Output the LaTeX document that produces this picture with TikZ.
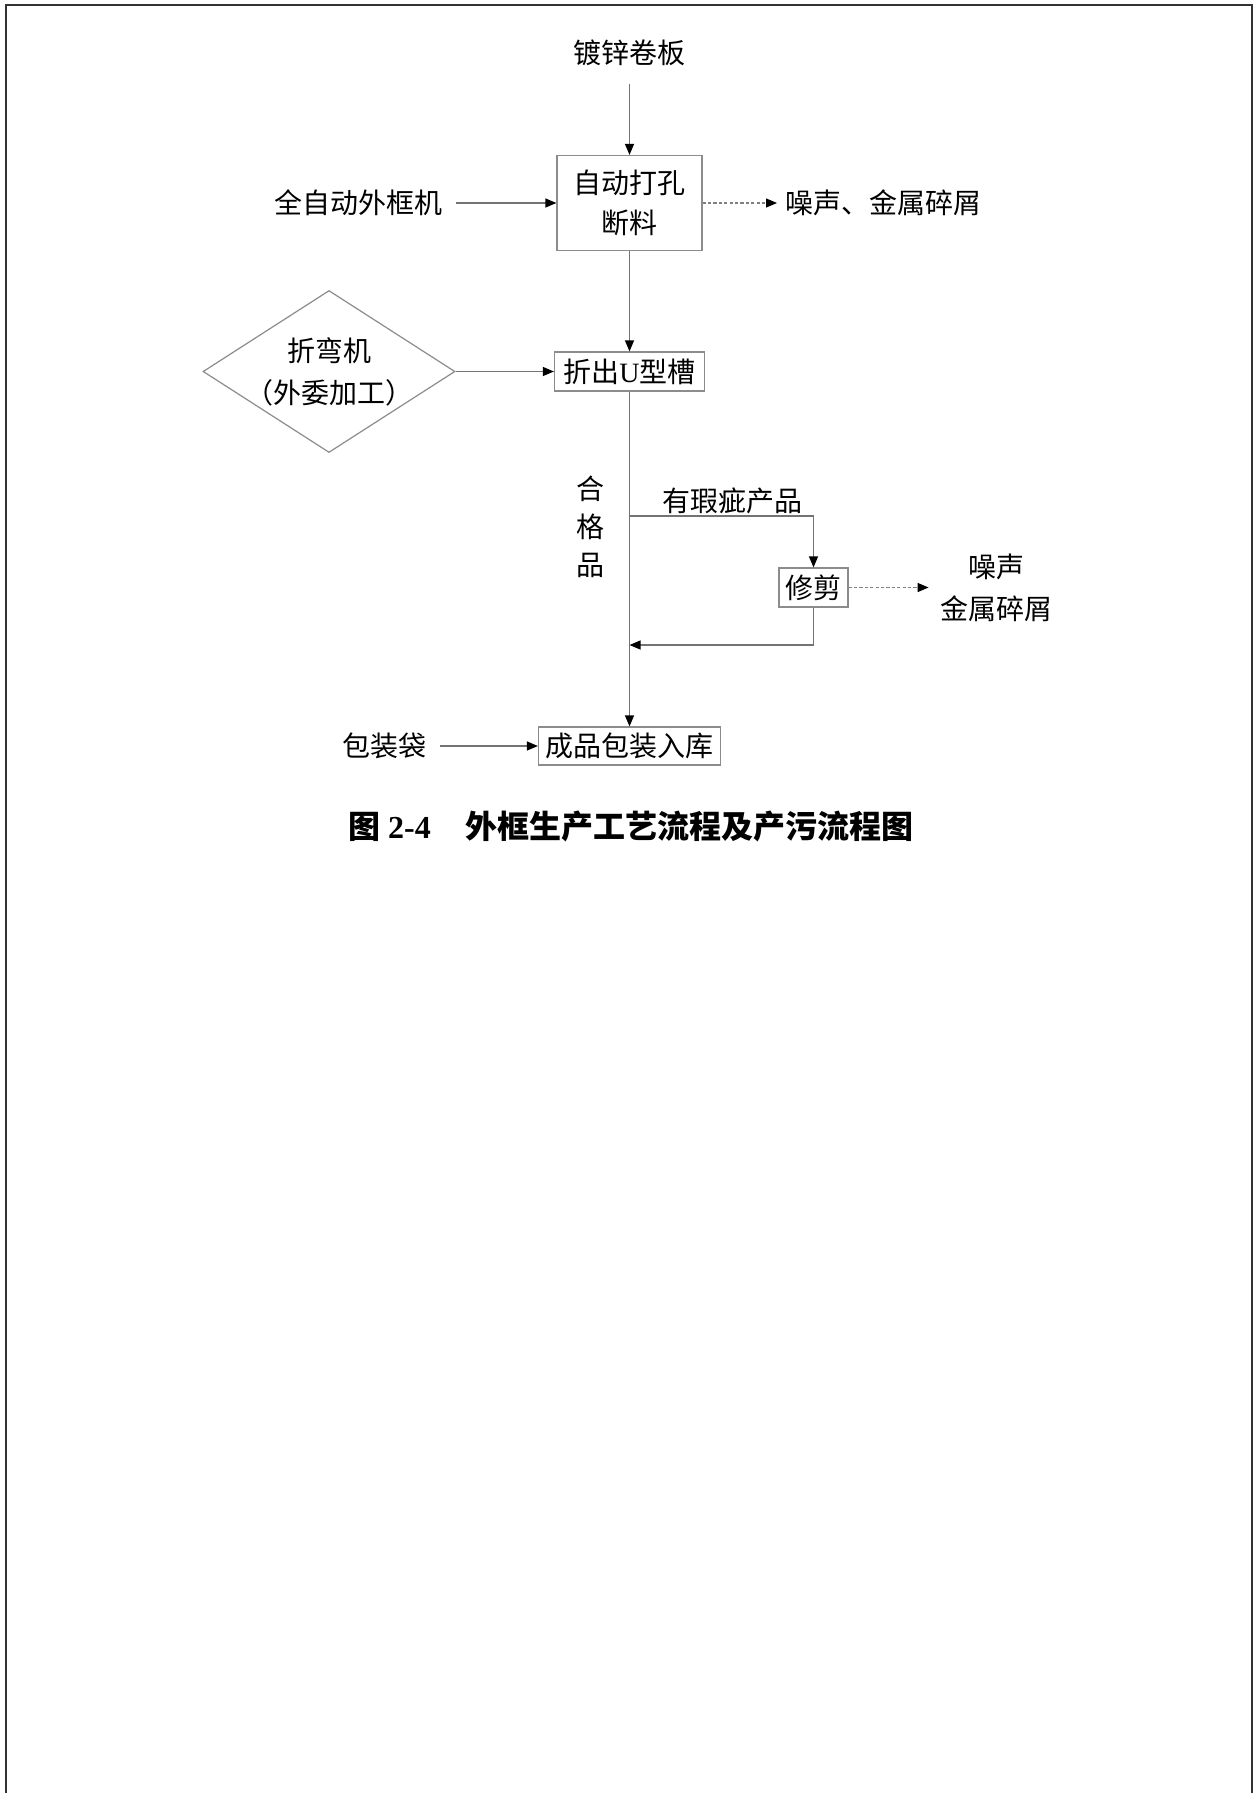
\documentclass[tikz,border=0pt]{standalone}
\usepackage{fontspec}
\setmainfont{Noto Sans CJK SC}
\newfontfamily\lat{Liberation Serif}
\usetikzlibrary{arrows.meta,shapes.geometric}
\begin{document}
\begin{tikzpicture}[x=0.5pt,y=-0.5pt,
  txt/.style={font=\fontsize{14pt}{20pt}\selectfont, inner sep=7pt},
  box/.style={draw=black!45, line width=0.6pt, font=\fontsize{14pt}{20pt}\selectfont, inner sep=0pt, align=center},
  conn/.style={draw=black!55, line width=0.6pt},
  arr/.style={conn, -{Triangle[length=5.5pt,width=4.5pt,color=black]}},
  darr/.style={arr, draw=black!50, dash pattern=on 1.6pt off 1.1pt},
]
\useasboundingbox (0,0) rectangle (1254,1793);
\fill[white] (0,0) rectangle (1254,1793);
\draw[black!80, line width=1pt] (6,1793) -- (6,5) -- (1252,5) -- (1252,1793);

% top part
\node[txt, inner sep=9pt] (src) at (629.5,53) {镀锌卷板};
\node[box, minimum width=72.5pt, minimum height=47.5pt] (b1) at (629.5,203) {自动打孔\\断料};
\node[txt] (auto) at (358,203) {全自动外框机};
\node[txt, anchor=west, inner sep=4pt] (n1) at (777,203) {噪声、金属碎屑};
\draw[arr] (src) -- (b1);
\draw[arr] (auto) -- (b1);
\draw[darr] (b1) -- (n1);

% U groove
\node[box, minimum width=75pt, minimum height=19.5pt] (b2) at (629.5,371.5) {折出{\lat U}型槽};
\node[draw=black!45, line width=0.6pt, diamond, minimum width=126pt, minimum height=81pt, inner sep=0pt,
  label={[font=\fontsize{14pt}{21pt}\selectfont, inner sep=0pt, align=center]center:折弯机\\（外委加工）}] (dia) at (329,371.5) {};
\draw[arr] (b1) -- (b2);
\draw[arr] (dia) -- (b2);

% trimming branch
\coordinate (br) at (629.5,516);
\coordinate (ret) at (629.5,645);
\node[box, minimum width=34.5pt, minimum height=19.5pt] (trim) at (813.5,587.5) {修剪};
\node[txt, inner sep=0pt] (def) at (732,501) {有瑕疵产品};
\node[inner sep=0pt, align=center, font=\fontsize{14pt}{19pt}\selectfont] (ok) at (590,527) {合\\格\\品};
\node[inner sep=5.5pt, align=center, font=\fontsize{14pt}{21pt}\selectfont] (n2) at (996,587.5) {噪声\\金属碎屑};
\draw[arr] (br) -| (trim);
\draw[darr] (trim) -- (n2);
\draw[arr] (trim) |- (ret);

% packing
\node[box, minimum width=91pt, minimum height=19pt] (b4) at (629.5,746) {成品包装入库};
\node[txt] (bag) at (384,746) {包装袋};
\draw[arr] (b2) -- (b4);
\draw[arr] (bag) -- (b4);

% caption
\node[inner sep=0pt, font=\fontsize{16pt}{20pt}\selectfont\bfseries] (cap) at (631,826)
  {图\hspace{4pt}{\lat 2-4}\hspace{17.5pt}外框生产工艺流程及产污流程图};
\end{tikzpicture}
\end{document}
